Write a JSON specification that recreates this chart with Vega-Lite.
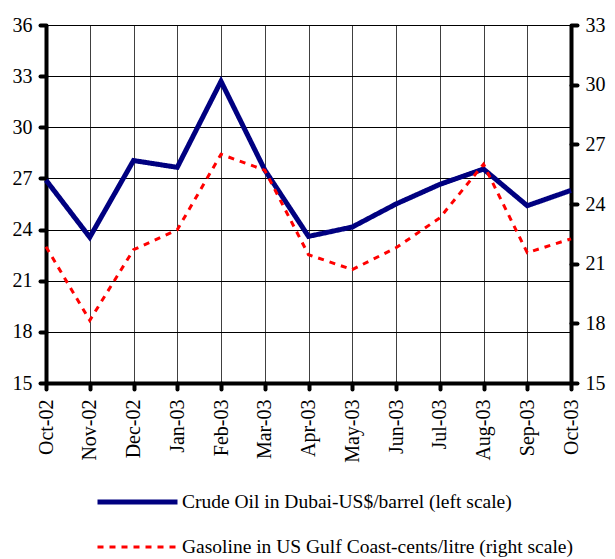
{
  "$schema": "https://vega.github.io/schema/vega-lite/v6.json",
  "width": 525,
  "height": 358,
  "autosize": {"type": "none"},
  "padding": {"left": 46, "top": 25, "right": 44, "bottom": 176},
  "background": "white",
  "config": {
    "view": {"stroke": null},
    "font": "Liberation Serif",
    "axis": {
      "labelFont": "Liberation Serif",
      "labelFontSize": 20,
      "labelColor": "black",
      "domainColor": "black",
      "domainWidth": 4,
      "tickColor": "black",
      "tickWidth": 4,
      "tickSize": 6,
      "tickCap": "round",
      "gridColor": "black",
      "gridWidth": 1,
      "title": null
    },
    "legend": {
      "orient": "none",
      "legendX": 49,
      "legendY": 467,
      "title": null,
      "direction": "vertical",
      "symbolType": "stroke",
      "symbolSize": 6400,
      "labelFont": "Liberation Serif",
      "labelFontSize": 19.5,
      "labelColor": "black",
      "labelOffset": 2,
      "labelLimit": 0,
      "clipHeight": 20,
      "rowPadding": 25,
      "padding": 0
    }
  },
  "data": {
    "values": [
      {"month": "Oct-02", "series": "Crude Oil in Dubai-US$/barrel (left scale)", "value": 26.9},
      {"month": "Nov-02", "series": "Crude Oil in Dubai-US$/barrel (left scale)", "value": 23.55},
      {"month": "Dec-02", "series": "Crude Oil in Dubai-US$/barrel (left scale)", "value": 28.05},
      {"month": "Jan-03", "series": "Crude Oil in Dubai-US$/barrel (left scale)", "value": 27.65},
      {"month": "Feb-03", "series": "Crude Oil in Dubai-US$/barrel (left scale)", "value": 32.7},
      {"month": "Mar-03", "series": "Crude Oil in Dubai-US$/barrel (left scale)", "value": 27.5},
      {"month": "Apr-03", "series": "Crude Oil in Dubai-US$/barrel (left scale)", "value": 23.6},
      {"month": "May-03", "series": "Crude Oil in Dubai-US$/barrel (left scale)", "value": 24.15},
      {"month": "Jun-03", "series": "Crude Oil in Dubai-US$/barrel (left scale)", "value": 25.5},
      {"month": "Jul-03", "series": "Crude Oil in Dubai-US$/barrel (left scale)", "value": 26.65},
      {"month": "Aug-03", "series": "Crude Oil in Dubai-US$/barrel (left scale)", "value": 27.55},
      {"month": "Sep-03", "series": "Crude Oil in Dubai-US$/barrel (left scale)", "value": 25.4},
      {"month": "Oct-03", "series": "Crude Oil in Dubai-US$/barrel (left scale)", "value": 26.3},
      {"month": "Oct-02", "series": "Gasoline in US Gulf Coast-cents/litre (right scale)", "value": 21.85},
      {"month": "Nov-02", "series": "Gasoline in US Gulf Coast-cents/litre (right scale)", "value": 18.15},
      {"month": "Dec-02", "series": "Gasoline in US Gulf Coast-cents/litre (right scale)", "value": 21.7},
      {"month": "Jan-03", "series": "Gasoline in US Gulf Coast-cents/litre (right scale)", "value": 22.7},
      {"month": "Feb-03", "series": "Gasoline in US Gulf Coast-cents/litre (right scale)", "value": 26.5},
      {"month": "Mar-03", "series": "Gasoline in US Gulf Coast-cents/litre (right scale)", "value": 25.7},
      {"month": "Apr-03", "series": "Gasoline in US Gulf Coast-cents/litre (right scale)", "value": 21.45},
      {"month": "May-03", "series": "Gasoline in US Gulf Coast-cents/litre (right scale)", "value": 20.7},
      {"month": "Jun-03", "series": "Gasoline in US Gulf Coast-cents/litre (right scale)", "value": 21.8},
      {"month": "Jul-03", "series": "Gasoline in US Gulf Coast-cents/litre (right scale)", "value": 23.3},
      {"month": "Aug-03", "series": "Gasoline in US Gulf Coast-cents/litre (right scale)", "value": 26.0},
      {"month": "Sep-03", "series": "Gasoline in US Gulf Coast-cents/litre (right scale)", "value": 21.55},
      {"month": "Oct-03", "series": "Gasoline in US Gulf Coast-cents/litre (right scale)", "value": 22.25}
    ]
  },
  "encoding": {
    "x": {
      "field": "month",
      "type": "ordinal",
      "sort": null,
      "scale": {"type": "point", "padding": 0},
      "axis": {"labelAngle": -90, "labelPadding": 10, "grid": true, "gridOpacity": 0.75}
    },
    "color": {
      "field": "series",
      "type": "nominal",
      "scale": {
        "domain": ["Crude Oil in Dubai-US$/barrel (left scale)", "Gasoline in US Gulf Coast-cents/litre (right scale)"],
        "range": ["#000080", "#ff0000"]
      }
    },
    "strokeDash": {
      "field": "series",
      "type": "nominal",
      "scale": {
        "domain": ["Crude Oil in Dubai-US$/barrel (left scale)", "Gasoline in US Gulf Coast-cents/litre (right scale)"],
        "range": [[1, 0], [6, 6]]
      }
    },
    "strokeWidth": {
      "field": "series",
      "type": "nominal",
      "scale": {
        "domain": ["Crude Oil in Dubai-US$/barrel (left scale)", "Gasoline in US Gulf Coast-cents/litre (right scale)"],
        "range": [5, 3]
      }
    }
  },
  "layer": [
    {
      "transform": [{"filter": "datum.series === 'Crude Oil in Dubai-US$/barrel (left scale)'"}],
      "mark": {"type": "line", "strokeJoin": "miter", "strokeCap": "butt"},
      "encoding": {
        "y": {
          "field": "value",
          "type": "quantitative",
          "scale": {"domain": [15, 36], "nice": false, "zero": false},
          "axis": {"values": [15, 18, 21, 24, 27, 30, 33, 36], "labelPadding": 8, "grid": true}
        }
      }
    },
    {
      "transform": [{"filter": "datum.series === 'Gasoline in US Gulf Coast-cents/litre (right scale)'"}],
      "mark": {"type": "line", "strokeJoin": "miter", "strokeCap": "butt"},
      "encoding": {
        "y": {
          "field": "value",
          "type": "quantitative",
          "scale": {"domain": [15, 33], "nice": false, "zero": false},
          "axis": {"orient": "right", "values": [15, 18, 21, 24, 27, 30, 33], "labelPadding": 8, "grid": false}
        }
      }
    }
  ],
  "resolve": {"scale": {"y": "independent"}, "axis": {"y": "independent"}}
}
